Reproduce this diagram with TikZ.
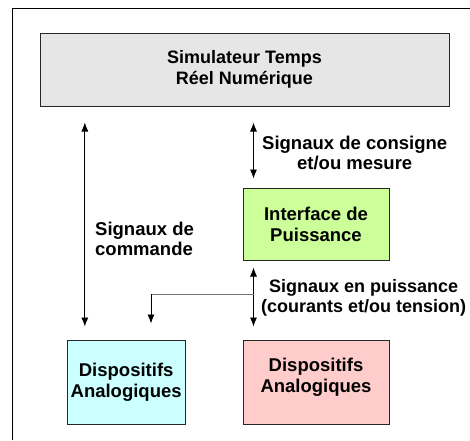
\documentclass[tikz,border=0pt]{standalone}
\usepackage{fontspec}
\setmainfont{Liberation Sans}
\definecolor{SimGray}{RGB}{230, 230, 230}
\definecolor{IfaceGreen}{RGB}{204, 255, 153}
\definecolor{DevCyan}{RGB}{204, 255, 255}
\definecolor{DevPink}{RGB}{255, 204, 204}
\usetikzlibrary{arrows.meta, positioning}

\begin{document}
\begin{tikzpicture}[x=1pt, y=-1pt, font=\bfseries\fontsize{18.5}{21}\selectfont]
      \tikzstyle{block} = [rectangle, draw=black!85, line width=1pt, align=center, text centered]
      \tikzstyle{line} = [draw, line width=0.8pt, {Latex[length=9pt, width=7pt]}-{Latex[length=9pt, width=7pt]}]
      \tikzstyle{tap} = [draw, line width=0.8pt, -{Latex[length=9pt, width=7pt]}]
      \tikzstyle{tag} = [align=center, inner sep=1pt, font=\bfseries\fontsize{18.5}{20.5}\selectfont]

      \useasboundingbox (0,0) rectangle (470,440);
      \draw [line width=0.8pt] (12,440) -- (12,8) -- (470,8);

      \node [block, fill=SimGray, minimum width=409pt, minimum height=73pt, font=\bfseries\fontsize{18}{20.5}\selectfont] (sim) at (244.5,69.5) {Simulateur Temps\\Réel Numérique};
      \node [block, fill=IfaceGreen, minimum width=146pt, minimum height=72pt] (iface) at (316,224) {Interface de\\Puissance};
      \node [block, fill=DevPink, minimum width=146pt, minimum height=84pt, text depth=14pt, below=79pt of iface] (devB) {Dispositifs\\Analogiques};
      \node [block, fill=DevCyan, minimum width=117pt, minimum height=84pt, left=57pt of devB] (devA) {Dispositifs\\Analogiques};

      % connector columns
      \coordinate (cmd) at ([xshift=18pt]devA.north west);
      \coordinate (pwr) at ([xshift=11pt]devB.north west);
      \coordinate (fork) at (151,294);

      \path [line, shorten <=16pt, shorten >=13pt] (sim.south -| cmd) -- (cmd);
      \path [line, shorten <=16pt, shorten >=9pt] (sim.south -| pwr) -- (iface.north -| pwr);
      \path [line, shorten <=7pt, shorten >=13pt] (iface.south -| pwr) -- (pwr);
      \path [tap, draw=black!55, -] (fork -| pwr) -- (fork);
      \path [tap] (fork) -- ([yshift=16pt]fork |- devA.north);

      \node [tag, anchor=west] (tagA) at (261,153) {Signaux de consigne\\et/ou mesure};
      \node [tag, anchor=west, align=left] (tagB) at (94,239) {Signaux de\\commande};
      \node [tag, anchor=west, font=\bfseries\fontsize{18}{20}\selectfont] (tagC) at (260,298) {Signaux en puissance\\(courants et/ou tension)};
\end{tikzpicture}
\end{document}
